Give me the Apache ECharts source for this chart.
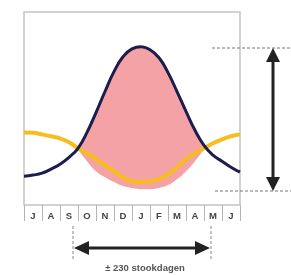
<!DOCTYPE html>
<html>
<head>
<meta charset="utf-8">
<script src="https://cdn.jsdelivr.net/npm/echarts@6/dist/echarts.min.js"></script>
<style>
  html, body { margin: 0; padding: 0; background: #fff; }
</style>
</head>
<body>
<div id="main" style="width: 291px;height: 275px"></div>
<script>
// maanden juli t/m juni
var months = ['J', 'A', 'S', 'O', 'N', 'D', 'J', 'F', 'M', 'A', 'M', 'J'];
// meetpunten per halve maand
var points = ['1 jul', '15 jul', '1 aug', '15 aug', '1 sep', '15 sep', '1 okt', '15 okt',
  '1 nov', '15 nov', '1 dec', '15 dec', '1 jan', '15 jan', '1 feb', '15 feb', '1 mrt',
  '15 mrt', '1 apr', '15 apr', '1 mei', '15 mei', '1 jun', '15 jun', '30 jun'];
// warmtevraag (donkerblauw)
var warmte = [14.9, 15.5, 16.5, 18.6, 21.1, 24.7, 29.4, 37.6, 47.9, 58.8, 69.1, 76.8, 80.9,
  82.0, 80.4, 76.3, 68.6, 58.8, 48.5, 38.7, 30.9, 25.8, 22.7, 19.6, 17.0];
// zon / temperatuur (geel)
var zon = [37.6, 37.4, 36.6, 35.6, 34.5, 32.5, 29.4, 26.8, 23.7, 20.6, 17.5, 14.4, 12.4,
  11.9, 12.4, 13.4, 16.0, 19.6, 23.7, 26.8, 29.4, 32.0, 34.0, 35.6, 36.6];
// onderrand van het roze stookvlak
var stookOnder = [null, null, null, null, null, null, 28.9, 22.7, 17.5, 14.4, 11.9, 9.8, 8.8,
  8.2, 8.2, 8.8, 10.3, 13.4, 17.5, 22.7, 28.9, null, null, null, null];

var stookBoven = stookOnder.map(function (v, i) {
  return v == null ? '-' : +(warmte[i] - v).toFixed(1);
});
var stookBasis = stookOnder.map(function (v) { return v == null ? '-' : v; });

var chartDom = document.getElementById('main');
var myChart = echarts.init(chartDom);
var font = '"Liberation Sans", Arial, sans-serif';

var option = {
  animation: false,
  grid: {
    left: 24, top: 12, width: 216, height: 193,
    show: true, borderColor: '#c4c4c4', borderWidth: 1.5, backgroundColor: '#fff'
  },
  xAxis: [
    {
      type: 'category',
      data: months,
      boundaryGap: true,
      axisLine: { show: false },
      axisTick: { show: true, interval: 0, length: 16, lineStyle: { color: '#b4b4b4', width: 1 } },
      axisLabel: { interval: 0, margin: 6, fontSize: 9.5, fontWeight: 'bold', color: '#444', fontFamily: font },
      splitLine: { show: false }
    },
    {
      type: 'category',
      data: points,
      boundaryGap: false,
      show: false
    }
  ],
  yAxis: {
    type: 'value', min: 0, max: 100, show: false, splitLine: { show: false }
  },
  series: [
    {
      name: 'basis', type: 'line', xAxisIndex: 1, stack: 'stook', data: stookBasis,
      smooth: true, symbol: 'none', lineStyle: { width: 0, opacity: 0 }, silent: true
    },
    {
      name: 'stookvlak', type: 'line', xAxisIndex: 1, stack: 'stook', data: stookBoven,
      smooth: true, symbol: 'none', lineStyle: { width: 0, opacity: 0 },
      areaStyle: { color: '#f5a2a6', opacity: 1 }, silent: true
    },
    {
      name: 'zon', type: 'line', xAxisIndex: 1, data: zon,
      smooth: true, symbol: 'none', lineStyle: { color: '#f7bd1e', width: 4 }
    },
    {
      name: 'warmte', type: 'line', xAxisIndex: 1, data: warmte,
      smooth: true, symbol: 'none', lineStyle: { color: '#1d1d4d', width: 3 }
    }
  ],
  graphic: [
    // rechts: amplitude
    { type: 'line', shape: { x1: 212, y1: 48, x2: 291, y2: 48 }, style: { stroke: '#777', lineWidth: 1, lineDash: [3, 2] } },
    { type: 'line', shape: { x1: 215, y1: 191, x2: 291, y2: 191 }, style: { stroke: '#777', lineWidth: 1, lineDash: [3, 2] } },
    { type: 'line', shape: { x1: 273, y1: 58, x2: 273, y2: 181 }, style: { stroke: '#222', lineWidth: 3 } },
    { type: 'polygon', shape: { points: [[273, 48], [266, 62], [280, 62]] }, style: { fill: '#222' } },
    { type: 'polygon', shape: { points: [[273, 191], [266, 177], [280, 177]] }, style: { fill: '#222' } },
    // onder: stookseizoen
    { type: 'line', shape: { x1: 73, y1: 226, x2: 73, y2: 259 }, style: { stroke: '#888', lineWidth: 1, lineDash: [3, 2] } },
    { type: 'line', shape: { x1: 211, y1: 226, x2: 211, y2: 259 }, style: { stroke: '#888', lineWidth: 1, lineDash: [3, 2] } },
    { type: 'line', shape: { x1: 86, y1: 248, x2: 198, y2: 248 }, style: { stroke: '#222', lineWidth: 3 } },
    { type: 'polygon', shape: { points: [[74, 248], [89, 241], [89, 255]] }, style: { fill: '#222' } },
    { type: 'polygon', shape: { points: [[210, 248], [195, 241], [195, 255]] }, style: { fill: '#222' } },
    {
      type: 'text', x: 145, y: 268,
      style: { text: '± 230 stookdagen', fontSize: 9.5, fontWeight: 'bold', fill: '#555', fontFamily: font, align: 'center', verticalAlign: 'middle' }
    }
  ]
};

option && myChart.setOption(option);
</script>
</body>
</html>
